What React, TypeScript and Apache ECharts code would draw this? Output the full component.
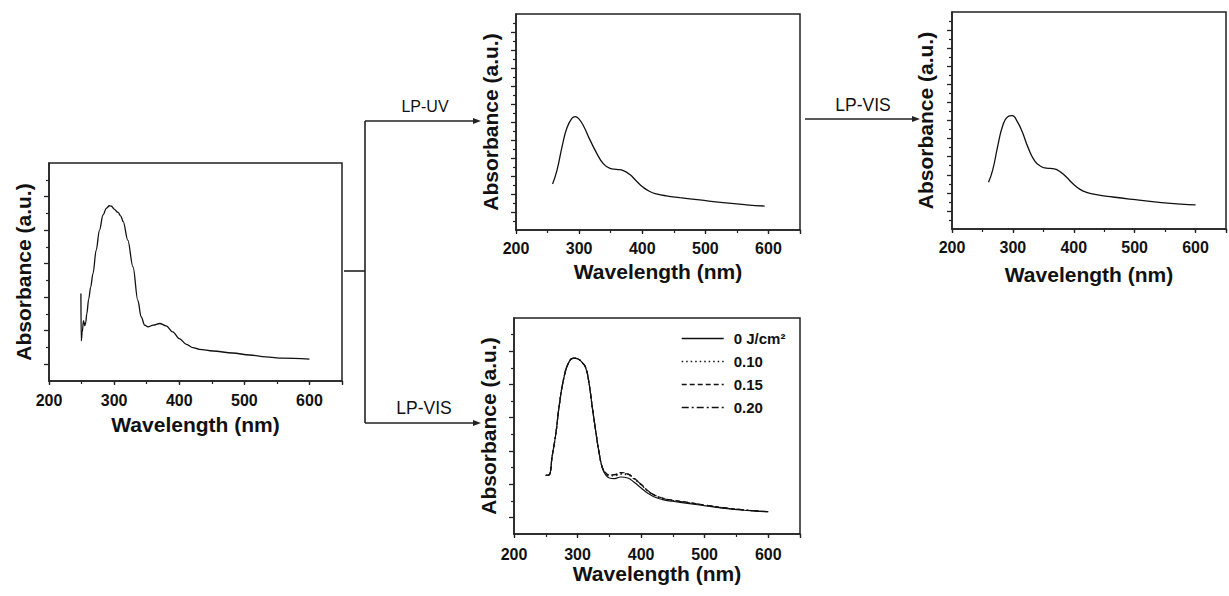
import { useEffect, useRef } from 'react';
import * as echarts from 'echarts';

const FONT = '"Liberation Sans", Arial, Helvetica, sans-serif';
const INK = '#111';
const FRAME = '#222';

// Panel 1: as-prepared sample
const wl1 = [249, 249.5, 251, 253, 255, 256.5, 258, 261, 264, 267.5, 272.5, 277.5, 283, 288, 293, 296, 300, 306, 310, 314, 321, 329, 336.5, 341.5, 347, 352, 360, 370, 380, 390, 400, 411, 421, 431, 452, 482, 508, 533, 559, 600];
const abs1 = [5.22, 2.39, 2.9, 3.6, 3.3, 3.5, 4.0, 4.9, 5.6, 6.4, 7.8, 9.0, 9.9, 10.3, 10.45, 10.42, 10.25, 10.05, 9.85, 9.5, 8.4, 6.8, 4.8, 3.83, 3.33, 3.23, 3.33, 3.43, 3.29, 2.93, 2.53, 2.19, 1.99, 1.89, 1.79, 1.67, 1.55, 1.44, 1.36, 1.3];

// Panel 2: after LP-UV
const wl2 = [258, 265, 273, 280.5, 288.5, 294, 299, 307, 317, 328, 338, 349, 359.5, 370, 380.5, 391, 401.5, 412, 422.5, 438, 459.5, 491, 528, 565, 594];
const abs2 = [2.56, 3.33, 4.63, 5.65, 6.2, 6.3, 6.2, 5.78, 5.02, 4.26, 3.7, 3.42, 3.37, 3.3, 3.08, 2.71, 2.37, 2.14, 2.01, 1.9, 1.8, 1.67, 1.52, 1.4, 1.33];

// Panel 3: after LP-UV then LP-VIS
const wl3 = [260, 267, 275, 283, 291, 299, 307, 315, 325, 336, 347, 355, 368, 379, 389, 400, 411, 421, 437, 464, 501, 544, 576, 600];
const abs3 = [2.58, 3.28, 4.57, 5.68, 6.2, 6.27, 5.95, 5.4, 4.5, 3.76, 3.44, 3.37, 3.33, 3.13, 2.83, 2.46, 2.18, 2.03, 1.9, 1.77, 1.62, 1.46, 1.37, 1.33];

// Panel 4: LP-VIS doses
const wl4 = [250, 255, 260, 266, 271, 279, 287, 294, 300, 308, 313, 318, 323, 329, 334, 339, 344, 350, 358, 368, 379, 389, 400, 410, 421, 434, 449, 476, 502, 528, 554, 581, 600];
const dose0 = [3.53, 3.55, 4.67, 6.08, 7.68, 9.49, 10.39, 10.59, 10.55, 10.29, 9.99, 9.09, 7.68, 6.08, 4.87, 3.97, 3.57, 3.37, 3.33, 3.43, 3.37, 3.11, 2.77, 2.47, 2.23, 2.07, 1.97, 1.83, 1.69, 1.56, 1.46, 1.38, 1.34];
const dose10 = [3.53, 3.55, 4.67, 6.08, 7.68, 9.49, 10.39, 10.59, 10.55, 10.29, 9.99, 9.09, 7.68, 6.08, 4.87, 3.99, 3.65, 3.5, 3.5, 3.6, 3.55, 3.3, 2.95, 2.6, 2.33, 2.14, 2.02, 1.87, 1.72, 1.58, 1.47, 1.39, 1.35];
const dose15 = [3.53, 3.55, 4.67, 6.08, 7.68, 9.49, 10.39, 10.59, 10.55, 10.29, 9.99, 9.09, 7.68, 6.08, 4.87, 4.0, 3.7, 3.56, 3.58, 3.7, 3.62, 3.36, 3.0, 2.63, 2.35, 2.16, 2.04, 1.89, 1.73, 1.59, 1.48, 1.39, 1.35];
const dose20 = [3.53, 3.55, 4.67, 6.08, 7.68, 9.49, 10.39, 10.59, 10.55, 10.29, 9.99, 9.09, 7.68, 6.08, 4.87, 4.0, 3.68, 3.55, 3.55, 3.66, 3.6, 3.34, 2.98, 2.62, 2.34, 2.15, 2.03, 1.88, 1.73, 1.59, 1.48, 1.39, 1.35];

const doseNames = ['0 J/cm²', '0.10', '0.15', '0.20'];
const xTickLabels = [200, 300, 400, 500, 600];

const majorOdd13 = [1, 3, 5, 7, 9, 11];
const minorEven13 = [2, 4, 6, 8, 10, 12];
const major12 = [1, 2, 3, 4, 5, 6, 7, 8, 9, 10, 11];
const minor12 = [0.5, 1.5, 2.5, 3.5, 4.5, 5.5, 6.5, 7.5, 8.5, 9.5, 10.5, 11.5];

const pairs = (xs: number[], ys: number[]) => xs.map((x, i) => [x, ys[i]]);

type PanelCfg = {
  left: number; top: number; width: number; height: number;
  ymax: number; majors: number[]; minors: number[];
  labelMargin: number; xNameGap: number; yNameGap: number;
};

const panels: PanelCfg[] = [
  { left: 49, top: 163, width: 293, height: 218, ymax: 13, majors: majorOdd13, minors: minorEven13, labelMargin: 11, xNameGap: 33, yNameGap: 15 },
  { left: 516, top: 14, width: 284, height: 216, ymax: 12, majors: major12, minors: minor12, labelMargin: 10, xNameGap: 31, yNameGap: 15 },
  { left: 952, top: 12, width: 281, height: 217, ymax: 12, majors: major12, minors: minor12, labelMargin: 10, xNameGap: 35, yNameGap: 16 },
  { left: 514, top: 318, width: 286, height: 216, ymax: 13, majors: majorOdd13, minors: minorEven13, labelMargin: 12, xNameGap: 28, yNameGap: 15 },
];

function buildOption() {
  const grid: any[] = [];
  const xAxis: any[] = [];
  const yAxis: any[] = [];
  panels.forEach((p, gi) => {
    grid.push({
      left: p.left, top: p.top, width: p.width, height: p.height,
      show: true, borderColor: FRAME, borderWidth: 1.5, backgroundColor: 'transparent',
    });
    xAxis.push({
      type: 'value', gridIndex: gi, position: 'bottom', min: 200, max: 650, interval: 100,
      axisLine: { show: true, onZero: false, lineStyle: { color: FRAME, width: 1.5 } },
      axisTick: { show: true, inside: false, length: 4, lineStyle: { color: FRAME, width: 1.3 } },
      axisLabel: {
        show: true, margin: p.labelMargin, fontFamily: FONT, fontWeight: 'bold', fontSize: 16, color: INK,
        formatter: (v: number) => (xTickLabels.indexOf(v) >= 0 ? String(v) : ''),
      },
      splitLine: { show: false },
      name: 'Wavelength (nm)', nameLocation: 'middle', nameGap: p.xNameGap,
      nameTextStyle: { fontFamily: FONT, fontWeight: 'bold', fontSize: 21, color: INK },
    });
    xAxis.push({
      type: 'value', gridIndex: gi, position: 'bottom', min: 200, max: 650, interval: 50,
      axisLine: { show: false, onZero: false },
      axisTick: { show: true, inside: false, length: 3, lineStyle: { color: FRAME, width: 1.2 } },
      axisLabel: { show: false },
      splitLine: { show: false },
    });
    yAxis.push({
      type: 'value', gridIndex: gi, position: 'left', min: 0, max: p.ymax,
      axisLine: { show: true, onZero: false, lineStyle: { color: FRAME, width: 1.5 } },
      axisTick: { show: true, inside: false, length: 5, customValues: p.majors, lineStyle: { color: FRAME, width: 1.3 } },
      axisLabel: { show: false },
      splitLine: { show: false },
      name: 'Absorbance (a.u.)', nameLocation: 'middle', nameGap: p.yNameGap,
      nameTextStyle: { fontFamily: FONT, fontWeight: 'bold', fontSize: 21, color: INK },
    });
    yAxis.push({
      type: 'value', gridIndex: gi, position: 'left', min: 0, max: p.ymax,
      axisLine: { show: false, onZero: false },
      axisTick: { show: true, inside: false, length: 3, customValues: p.minors, lineStyle: { color: FRAME, width: 1.2 } },
      axisLabel: { show: false },
      splitLine: { show: false },
    });
  });

  const base = { type: 'line', symbol: 'none', smooth: 0.5, silent: true };
  const series: any[] = [
    { ...base, smooth: 0.35, smoothMonotone: 'x', name: 'p1', xAxisIndex: 0, yAxisIndex: 0, data: pairs(wl1, abs1), lineStyle: { color: INK, width: 1.3 } },
    { ...base, name: 'p2', xAxisIndex: 2, yAxisIndex: 2, data: pairs(wl2, abs2), lineStyle: { color: INK, width: 1.3 } },
    { ...base, name: 'p3', xAxisIndex: 4, yAxisIndex: 4, data: pairs(wl3, abs3), lineStyle: { color: INK, width: 1.3 } },
    { ...base, name: doseNames[0], xAxisIndex: 6, yAxisIndex: 6, data: pairs(wl4, dose0), itemStyle: { color: INK }, lineStyle: { color: INK, width: 1.2, type: 'solid' } },
    { ...base, name: doseNames[1], xAxisIndex: 6, yAxisIndex: 6, data: pairs(wl4, dose10), itemStyle: { color: INK }, lineStyle: { color: INK, width: 1.2, type: [1.5, 3] } },
    { ...base, name: doseNames[2], xAxisIndex: 6, yAxisIndex: 6, data: pairs(wl4, dose15), itemStyle: { color: INK }, lineStyle: { color: INK, width: 1.2, type: [5, 3] } },
    { ...base, name: doseNames[3], xAxisIndex: 6, yAxisIndex: 6, data: pairs(wl4, dose20), itemStyle: { color: INK }, lineStyle: { color: INK, width: 1.2, type: [7, 3, 2, 3] } },
  ];

  const ln = (x1: number, y1: number, x2: number, y2: number) => ({
    type: 'line', shape: { x1, y1, x2, y2 }, style: { stroke: FRAME, lineWidth: 1.6 }, silent: true,
  });
  const head = (x: number, y: number) => ({
    type: 'polygon', shape: { points: [[x - 8, y - 3], [x, y], [x - 8, y + 3]] }, style: { fill: FRAME }, silent: true,
  });
  const label = (text: string, x: number, y: number, size: number) => ({
    type: 'text', x, y, silent: true,
    style: { text, fontFamily: FONT, fontSize: size, fill: INK, align: 'center', verticalAlign: 'middle' },
  });

  const graphic = [
    ln(344, 271, 365, 271),
    ln(365, 121, 365, 423),
    ln(365, 121, 474, 121), head(481, 121),
    ln(365, 423, 474, 423), head(481, 423),
    ln(805, 119, 913, 119), head(920, 119),
    label('LP-UV', 425, 106, 16),
    label('LP-VIS', 424, 408, 17.5),
    label('LP-VIS', 863, 105, 17.5),
  ];

  return {
    animation: false,
    backgroundColor: '#fff',
    grid, xAxis, yAxis, series, graphic,
    legend: {
      data: doseNames, orient: 'vertical', left: 681, top: 331, padding: 0,
      itemWidth: 42, itemHeight: 14, itemGap: 8, selectedMode: false,
      itemStyle: { opacity: 0, color: 'rgba(0,0,0,0)', borderWidth: 0 },
      lineStyle: { width: 1.4 },
      textStyle: { fontFamily: FONT, fontWeight: 'bold', fontSize: 15, color: INK, padding: [0, 0, 0, 5] },
    },
  };
}

export default function App() {
  const ref = useRef<HTMLDivElement>(null);
  useEffect(() => {
    if (!ref.current) return;
    const chart = echarts.init(ref.current, undefined, { renderer: 'svg' });
    chart.setOption(buildOption() as any);
    return () => chart.dispose();
  }, []);
  return (
    <div
      ref={ref}
      style={{ position: 'absolute', left: 0, top: 0, width: 1229, height: 596, background: '#fff' }}
    />
  );
}
